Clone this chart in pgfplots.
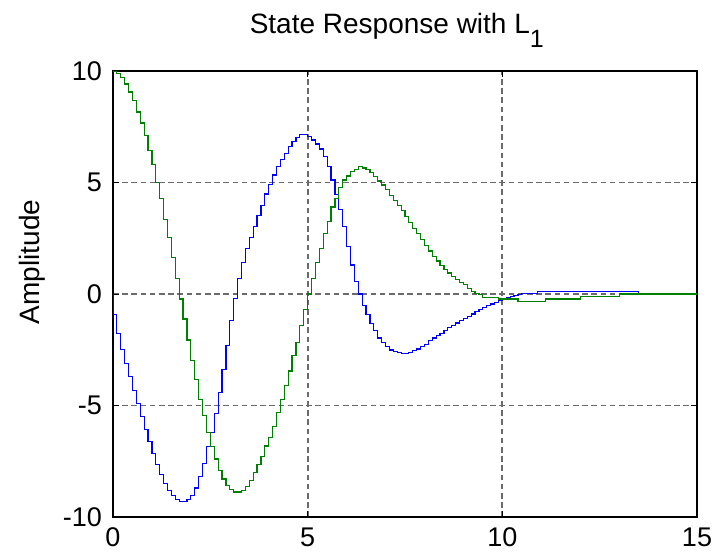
\documentclass[border=0pt]{standalone}
\usepackage{pgfplots}
\pgfplotsset{compat=1.18}
\usepackage{fontspec}
\setmainfont{Liberation Sans}
\definecolor{mblue}{RGB}{0,0,255}
\definecolor{mgreen}{RGB}{0,128,0}
\begin{document}
\begin{tikzpicture}
\path[use as bounding box] (0,0) rectangle (358.5pt,279pt);
\begin{axis}[
  at={(56.5pt,20.5pt)}, anchor=south west,
  scale only axis, width=292pt, height=223pt,
  xmin=0, xmax=15, ymin=-10, ymax=10,
  xtick={0,5,10,15}, xticklabels={0,5,10,15},
  ytick={-10,-5,0,5,10}, yticklabels={-10,-5,0,5,10},
  tick align=inside, tick pos=both, major tick length=3pt,
  grid=major,
  major grid style={black!58, dash pattern=on 2.8pt off 1.8pt, line width=0.9pt},
  axis line style={black, line width=0.65pt},
  every tick/.style={black, line width=0.5pt},
  tick label style={font=\fontsize{13.5}{15}\selectfont},
  xticklabel style={yshift=-2pt},
  yticklabel style={xshift=-2pt},
  title={State Response with L\raisebox{-0.5em}{\fontsize{12.5}{14}\selectfont 1}},
  title style={at={(axis description cs:0.486,1)}, anchor=base, yshift=13pt, font=\fontsize{14}{16}\selectfont},
  ylabel={Amplitude},
  ylabel style={at={(axis description cs:-0.139,0.572)}, anchor=center, font=\fontsize{14}{16}\selectfont},
]
\addplot[mblue, line width=0.6pt, const plot] table {
x y
0 0
0 -0.93
0.1 -1.77
0.2 -2.48
0.3 -3.10
0.4 -3.70
0.5 -4.32
0.6 -4.90
0.7 -5.50
0.8 -6.08
0.9 -6.62
1.0 -7.15
1.1 -7.65
1.2 -8.09
1.3 -8.48
1.4 -8.80
1.5 -9.05
1.6 -9.22
1.7 -9.30
1.8 -9.30
1.9 -9.22
2.0 -9.02
2.1 -8.70
2.2 -8.17
2.3 -7.60
2.4 -6.85
2.5 -6.20
2.6 -5.35
2.7 -4.42
2.8 -3.37
2.9 -2.30
3.0 -1.20
3.1 -0.20
3.2 0.68
3.3 1.43
3.4 2.03
3.5 2.55
3.6 3.04
3.7 3.53
3.8 3.98
3.9 4.48
4.0 4.92
4.1 5.34
4.2 5.72
4.3 6.02
4.4 6.31
4.5 6.61
4.6 6.84
4.7 7.03
4.8 7.14
4.9 7.17
5.0 7.05
5.1 6.91
5.2 6.73
5.3 6.50
5.4 6.16
5.5 5.72
5.6 5.11
5.7 4.47
5.8 3.80
5.9 3.04
6.0 2.14
6.1 1.30
6.2 0.55
6.3 0.00
6.4 -0.52
6.5 -0.92
6.6 -1.34
6.7 -1.64
6.8 -1.97
6.9 -2.17
7.0 -2.36
7.1 -2.51
7.2 -2.57
7.3 -2.62
7.4 -2.66
7.5 -2.66
7.6 -2.62
7.7 -2.54
7.8 -2.47
7.9 -2.36
8.0 -2.27
8.1 -2.10
8.2 -1.97
8.3 -1.87
8.4 -1.76
8.5 -1.64
8.6 -1.52
8.7 -1.40
8.8 -1.30
8.9 -1.20
9.0 -1.10
9.1 -1.00
9.2 -0.90
9.3 -0.80
9.4 -0.70
9.5 -0.60
9.6 -0.52
9.7 -0.45
9.8 -0.38
9.9 -0.30
10.0 -0.22
10.1 -0.16
10.2 -0.10
10.3 -0.06
10.4 -0.02
10.5 0.02
10.9 0.12
13.5 0.00
15 0.00
};
\addplot[mgreen, line width=0.6pt, const plot] table {
x y
0 10.0
0.1 9.90
0.2 9.72
0.3 9.42
0.4 9.06
0.5 8.66
0.6 8.16
0.7 7.67
0.8 7.12
0.9 6.43
1.0 5.80
1.1 5.00
1.2 4.29
1.3 3.34
1.4 2.53
1.5 1.62
1.6 0.71
1.7 -0.22
1.8 -1.12
1.9 -2.06
2.0 -2.99
2.1 -3.82
2.2 -4.72
2.3 -5.45
2.4 -6.20
2.5 -6.85
2.6 -7.40
2.7 -7.90
2.8 -8.30
2.9 -8.60
3.0 -8.78
3.1 -8.88
3.2 -8.88
3.3 -8.80
3.4 -8.62
3.5 -8.38
3.6 -8.00
3.7 -7.65
3.8 -7.28
3.9 -6.82
4.0 -6.45
4.1 -5.95
4.2 -5.30
4.3 -4.72
4.4 -4.10
4.5 -3.45
4.6 -2.77
4.7 -2.17
4.8 -1.42
4.9 -0.71
5.0 0.00
5.1 0.68
5.2 1.43
5.3 2.03
5.4 2.71
5.5 3.25
5.6 3.90
5.7 4.29
5.8 4.78
5.9 5.11
6.0 5.29
6.1 5.48
6.2 5.60
6.3 5.71
6.4 5.65
6.5 5.59
6.6 5.44
6.7 5.26
6.8 5.07
6.9 4.89
7.0 4.69
7.1 4.43
7.2 4.21
7.3 3.98
7.4 3.73
7.5 3.46
7.6 3.19
7.7 2.94
7.8 2.71
7.9 2.44
8.0 2.18
8.1 1.93
8.2 1.69
8.3 1.48
8.4 1.28
8.5 1.10
8.6 0.94
8.7 0.79
8.8 0.65
8.9 0.53
9.0 0.41
9.1 0.26
9.2 0.13
9.3 0.04
9.4 -0.04
9.5 -0.14
9.9 -0.22
10.4 -0.32
11.1 -0.22
12.0 -0.11
13.0 0.00
15 0.00
};
\end{axis}
\end{tikzpicture}
\end{document}
